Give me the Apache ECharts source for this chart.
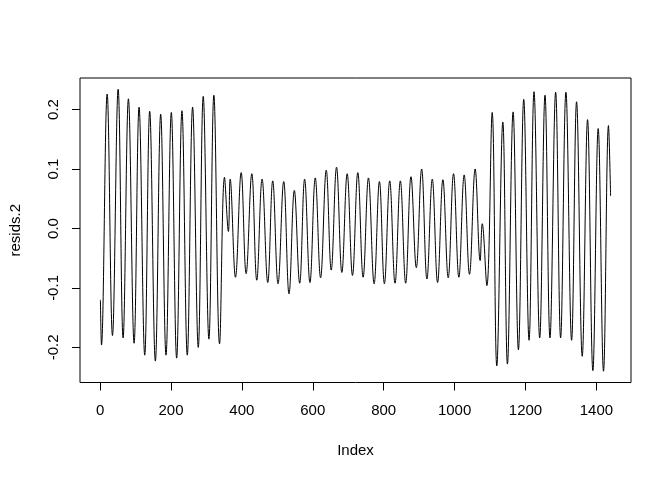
<!DOCTYPE html>
<html>
<head>
<meta charset="utf-8">
<script src="https://cdn.jsdelivr.net/npm/echarts@6/dist/echarts.min.js"></script>
<style>html,body{margin:0;padding:0;background:#fff}#c{width:672px;height:480px}</style>
</head>
<body>
<div id="c"></div>
<script>
// Local extremes (index, value)
var pointIndex = [1,4,20,35,51,65,80,96,110,126,
  140,156,171,186,201,216,231,246,261,277,
  291,307,321,337,351,362,367,382,398,412,
  428,442,457,473,487,502,518,533,548,563,
  577,592,607,622,638,652,667,682,697,712,
  727,742,757,773,788,802,817,832,847,862,
  877,892,907,922,937,952,967,982,997,1012,
  1027,1042,1058,1072,1078,1091,1106,1119,1136,1149,
  1165,1180,1195,1210,1224,1240,1255,1269,1285,1299,
  1314,1330,1344,1360,1375,1390,1405,1420,1434,1440];
var residValues = [-0.120,-0.196,0.226,-0.180,0.234,-0.184,0.218,-0.193,0.204,-0.213,
  0.197,-0.223,0.192,-0.213,0.195,-0.218,0.198,-0.213,0.204,-0.200,
  0.222,-0.186,0.224,-0.194,0.086,-0.005,0.083,-0.082,0.094,-0.076,
  0.092,-0.087,0.083,-0.091,0.080,-0.093,0.079,-0.110,0.064,-0.092,
  0.083,-0.091,0.085,-0.083,0.098,-0.070,0.103,-0.074,0.092,-0.079,
  0.094,-0.082,0.085,-0.093,0.079,-0.093,0.080,-0.092,0.080,-0.092,
  0.087,-0.066,0.100,-0.085,0.083,-0.091,0.082,-0.083,0.092,-0.082,
  0.090,-0.077,0.100,-0.054,0.008,-0.096,0.195,-0.231,0.179,-0.228,
  0.196,-0.204,0.217,-0.188,0.230,-0.184,0.224,-0.184,0.229,-0.184,
  0.229,-0.188,0.213,-0.215,0.183,-0.239,0.168,-0.240,0.173,0.055];
var xTicks = [0,200,400,600,800,1000,1200,1400];
var yTicks = [-0.2,-0.1,0.0,0.1,0.2];
var xTitle = 'Index';
var yTitle = 'resids.2';

var seriesData = pointIndex.map(function(x,i){ return [x, residValues[i]]; });
var n = 1440;
var xExt = (n-1)*0.04;
var yMin = Math.min.apply(null, residValues), yMax = Math.max.apply(null, residValues);
var yExt = (yMax-yMin)*0.04;
var font = 'Liberation Sans, Arial, sans-serif';
var fs = 15;

var chart = echarts.init(document.getElementById('c'), null, {renderer:'canvas'});
chart.setOption({
  animation: false,
  backgroundColor: '#fff',
  grid: {left: 78, right: 41, top: 78, bottom: 97.5, show: true, borderColor: '#000', borderWidth: 1, backgroundColor: 'transparent'},
  xAxis: {
    type: 'value', min: 1 - xExt, max: n + xExt,
    name: xTitle, nameLocation: 'middle', nameGap: 61,
    nameTextStyle: {fontFamily: font, fontSize: fs, color: '#000'},
    axisLine: {show: false, onZero: false},
    axisTick: {show: true, length: 8, inside: false, customValues: xTicks, lineStyle: {color: '#000'}},
    axisLabel: {customValues: xTicks, margin: 21, fontFamily: font, fontSize: fs, color: '#000',
      formatter: function(v){ return String(v); }},
    splitLine: {show: false}
  },
  yAxis: {
    type: 'value', min: yMin - yExt, max: yMax + yExt,
    name: yTitle, nameLocation: 'middle', nameGap: 57,
    nameTextStyle: {fontFamily: font, fontSize: fs, color: '#000'},
    axisLine: {show: false, onZero: false},
    axisTick: {show: true, length: 8, inside: false, customValues: yTicks, lineStyle: {color: '#000'}},
    axisLabel: {customValues: yTicks, rotate: 90, margin: 19, fontFamily: font, fontSize: fs, color: '#000',
      formatter: function(v){ return v.toFixed(1); }},
    splitLine: {show: false}
  },
  series: [{
    type: 'line', data: seriesData, showSymbol: false, symbol: 'none',
    smooth: 0.4,
    lineStyle: {color: '#000', width: 1}, silent: true
  }]
});
</script>
</body>
</html>
